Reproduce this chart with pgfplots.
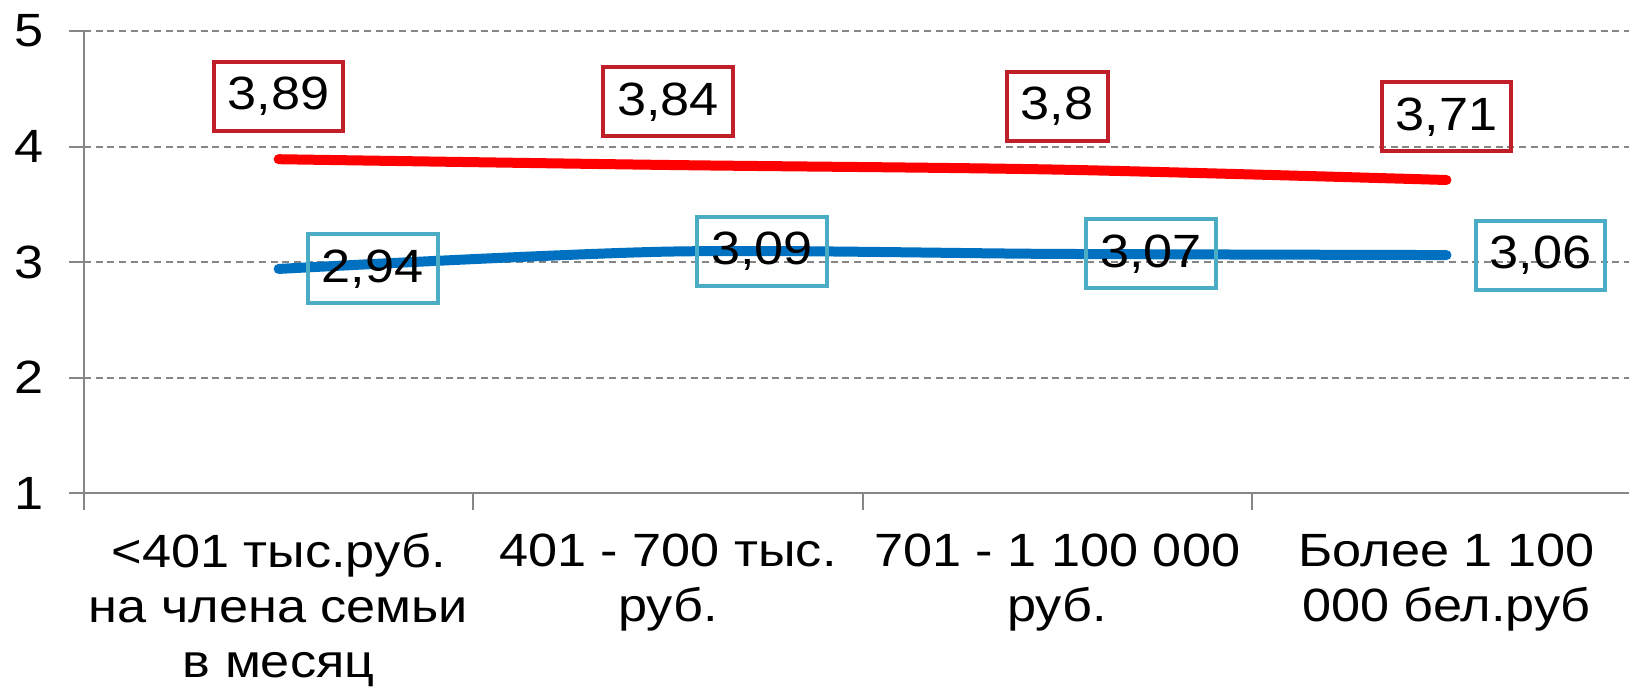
\documentclass[border=0pt]{standalone}
\usepackage{fontspec}
\setmainfont{Liberation Sans}[FakeStretch=1.12]
\usepackage{pgfplots}
\usepackage{pgfplotstable}
\pgfplotsset{compat=1.18}
\definecolor{lred}{RGB}{255,0,0}
\definecolor{lblue}{RGB}{0,112,192}
\definecolor{bred}{RGB}{192,30,40}
\definecolor{bblue}{RGB}{75,172,198}
\definecolor{axgray}{RGB}{134,134,134}

\pgfplotstableread{
x y lab
0 3.89 3,89
1 3.84 3,84
2 3.80 3,8
3 3.71 3,71
}\redtab
\pgfplotstableread{
x y lab
0 2.94 2,94
1 3.09 3,09
2 3.07 3,07
3 3.06 3,06
}\bluetab

\newcommand{\lblfont}{\fontsize{14}{16.5}\selectfont}

\begin{document}
\begin{tikzpicture}
\begin{axis}[
  scale only axis, width=463.5pt, height=138.6pt,
  xmin=-0.5, xmax=3.469, ymin=1, ymax=5,
  axis lines=left,
  axis line style={-, draw=axgray, line width=0.6pt},
  ytick={1,2,3,4,5},
  xtick={0,1,2,3},
  xticklabels={{<401 тыс.руб.\\на члена семьи\\в месяц},{401 - 700 тыс.\\руб.},{701 - 1 100 000\\руб.},{Более 1 100\\000 бел.руб}},
  minor xtick={-0.5,0.5,1.5,2.5},
  tick align=outside,
  major tick length=4.5pt, minor tick length=5pt,
  major x tick style={draw=none},
  minor x tick style={draw=axgray, line width=0.6pt},
  major y tick style={draw=axgray, line width=0.6pt},
  ymajorgrids,
  grid style={draw=axgray, line width=0.6pt, dash pattern=on 2.1pt off 1.4pt},
  /pgf/number format/assume math mode=true,
  yticklabel style={anchor=east, inner sep=0pt, xshift=-7.5pt, font=\lblfont},
  xticklabel style={anchor=north, inner sep=0pt, yshift=-7.5pt, align=center, font=\lblfont},
  clip=false,
]
\coordinate (O) at (rel axis cs:0,0);
\addplot[lred, line width=3pt, line cap=round, smooth, point meta=explicit symbolic,
  nodes near coords,
  every node near coord/.append style={anchor=center, yshift=18.9pt, draw=bred, line width=1.2pt, text=black, inner xsep=4.2pt, inner ysep=0pt, minimum height=20.7pt, font=\lblfont}]
  table[x=x,y=y,meta=lab]{\redtab};
\addplot[lblue, line width=3pt, line cap=round, smooth, point meta=explicit symbolic,
  nodes near coords,
  every node near coord/.append style={anchor=center, xshift=28.2pt, draw=bblue, line width=1.2pt, text=black, inner xsep=4.2pt, inner ysep=0pt, minimum height=20.7pt, font=\lblfont}]
  table[x=x,y=y,meta=lab]{\bluetab};
\end{axis}
\pgfresetboundingbox
\path[use as bounding box] (O) ++(-25.2pt,-58.2pt) rectangle ++(488.7pt,206.1pt);
\end{tikzpicture}
\end{document}
